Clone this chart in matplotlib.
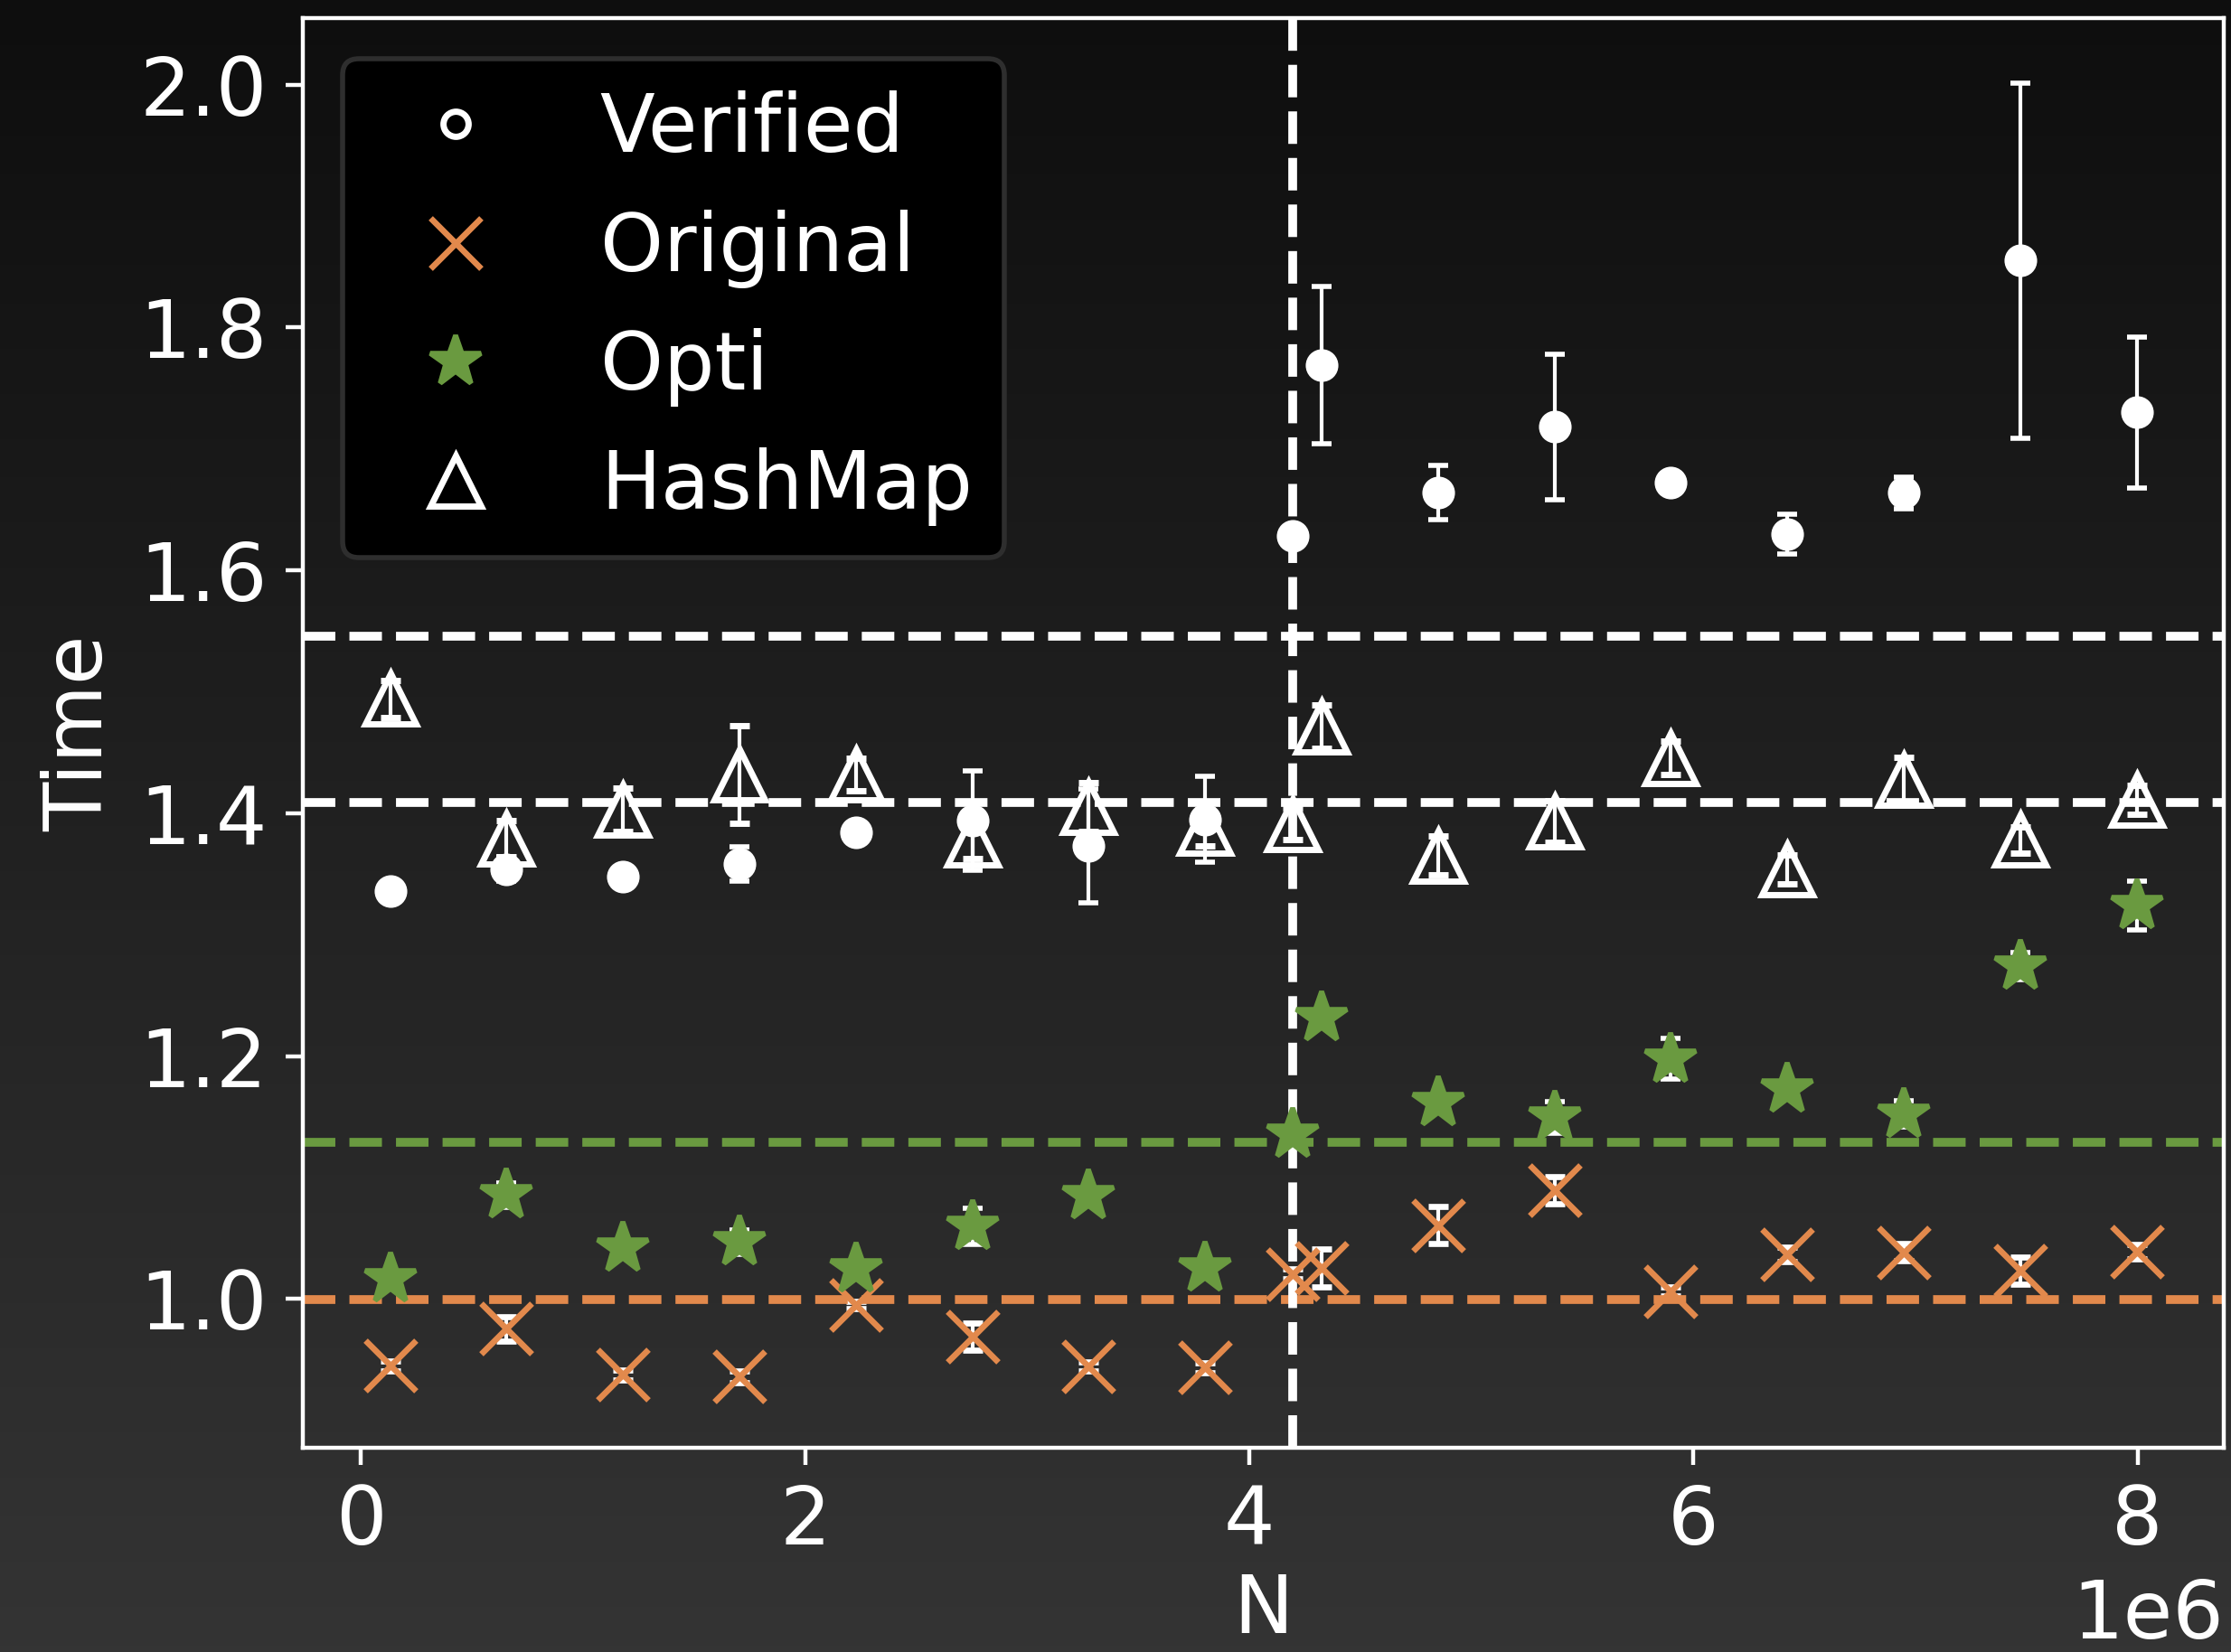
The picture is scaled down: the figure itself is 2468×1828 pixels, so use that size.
import numpy as np
import matplotlib
matplotlib.use("Agg")
import matplotlib.pyplot as plt
from matplotlib.lines import Line2D
from matplotlib.colors import LinearSegmentedColormap

# Problem sizes (N) at which each implementation was timed
N = [131072, 655360, 1179648, 1703936, 2228224, 2752512, 3276800, 3801088,
     4194304, 4325376, 4849664, 5373952, 5898240, 6422528, 6946816,
     7471104, 7995392]

# Mean normalised run times and their spreads
verified = [1.336, 1.354, 1.348, 1.358, 1.384, 1.394, 1.373, 1.395, 1.628,
            1.769, 1.664, 1.718, 1.672, 1.630, 1.664, 1.855, 1.730]
verified_err = [0.003, 0.010, 0.003, 0.014, 0.003, 0.041, 0.047, 0.035, 0.005,
                0.065, 0.022, 0.060, 0.003, 0.0165, 0.013, 0.146, 0.062]

original = [0.945, 0.9755, 0.9376, 0.9359, 0.995, 0.969, 0.9444, 0.9435, 1.0206,
            1.0257, 1.0607, 1.0897, 1.0061, 1.0365, 1.0383, 1.0235, 1.039]
original_err = [0.004, 0.010, 0.004, 0.005, 0.003, 0.011, 0.004, 0.004, 0.004,
                0.0156, 0.0154, 0.011, 0.004, 0.006, 0.007, 0.011, 0.006]

opti = [1.0169, 1.0856, 1.042, 1.047, 1.0246, 1.060, 1.0847, 1.0259, 1.1356,
        1.2314, 1.162, 1.1497, 1.1978, 1.1727, 1.1523, 1.2742, 1.324]
opti_err = [0.005, 0.010, 0.005, 0.010, 0.005, 0.015, 0.005, 0.005, 0.005,
            0.005, 0.005, 0.013, 0.017, 0.005, 0.011, 0.011, 0.020]

hashmap = [1.494, 1.379, 1.403, 1.432, 1.432, 1.378, 1.405, 1.388, 1.391,
           1.471, 1.365, 1.393, 1.4456, 1.3535, 1.4273, 1.378, 1.411]
hashmap_err = [0.0156, 0.015, 0.018, 0.040, 0.0136, 0.015, 0.020, 0.015, 0.013,
               0.0178, 0.016, 0.017, 0.0136, 0.012, 0.019, 0.011, 0.012]

labels = ["Verified", "Original", "Opti", "HashMap"]
threshold_n = 4194304

WHITE = "white"
ORANGE = "#E2894C"
GREEN = "#6A9A40"

plt.rcParams.update({
    "font.family": ["DejaVu Sans"],
    "font.size": 16,
    "text.color": WHITE,
    "axes.labelcolor": WHITE,
    "axes.edgecolor": WHITE,
    "xtick.color": WHITE,
    "ytick.color": WHITE,
})

fig = plt.figure(figsize=(6.17, 4.57), dpi=400)

# dark vertical gradient behind everything
bg = fig.add_axes([0, 0, 1, 1], zorder=-10)
grad = np.linspace(0, 1, 256).reshape(-1, 1)
cmap = LinearSegmentedColormap.from_list("bg", ["#0e0e0e", "#343434"])
bg.imshow(grad, aspect="auto", cmap=cmap, extent=[0, 1, 0, 1], origin="upper")
bg.set_axis_off()

ax = fig.add_axes([0.1357, 0.1236, 0.8611, 0.8653])
ax.set_facecolor("none")

err_kw = dict(ecolor=WHITE, elinewidth=0.75, capsize=2, capthick=0.75, linestyle="none")

ax.errorbar(N, verified, yerr=verified_err, fmt="o", color=WHITE, ms=5.5, mew=1, **err_kw)
ax.errorbar(N, original, yerr=original_err, fmt="x", color=ORANGE, ms=10, mew=1.2, **err_kw)
ax.errorbar(N, opti, yerr=opti_err, fmt="*", color=GREEN, ms=10.5, mew=1, **err_kw)
ax.errorbar(N, hashmap, yerr=hashmap_err, fmt="^", color=WHITE, mfc="none", mec=WHITE,
            ms=10, mew=1.25, **err_kw)

# averages over all sizes
line_kw = dict(ls="--", lw=1.75)
ax.axhline(np.mean(verified), color=WHITE, **line_kw)
ax.axhline(np.mean(original), color=ORANGE, **line_kw)
ax.axhline(np.mean(opti), color=GREEN, **line_kw)
ax.axhline(np.mean(hashmap), color=WHITE, **line_kw)
ax.axvline(threshold_n, color=WHITE, **line_kw)

ax.set_xlabel("N", labelpad=2)
ax.set_ylabel("Time")

handles = [
    Line2D([], [], ls="none", marker="o", ms=5, mfc="none", mec=WHITE, mew=1.25),
    Line2D([], [], ls="none", marker="x", ms=10, color=ORANGE, mew=1.2),
    Line2D([], [], ls="none", marker="*", ms=10.5, color=GREEN, mew=1),
    Line2D([], [], ls="none", marker="^", ms=10, mfc="none", mec=WHITE, mew=1.25),
]
leg = ax.legend(handles, labels, loc="upper left", facecolor="black",
                edgecolor="#2e2e2e", framealpha=1, labelcolor=WHITE)

fig.savefig("out.png", dpi=400)
